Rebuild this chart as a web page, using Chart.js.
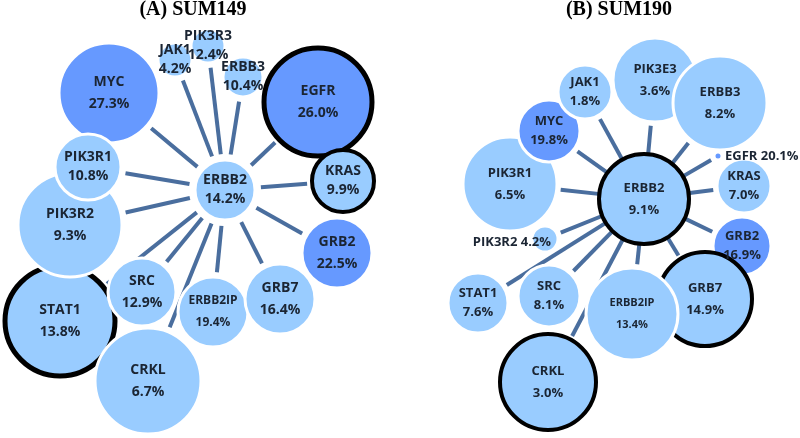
<!DOCTYPE html>
<html>
<head>
<meta charset="utf-8">
<script src="https://cdn.jsdelivr.net/npm/chart.js@4.4.0/dist/chart.umd.min.js"></script>
<style>
  html, body { margin: 0; padding: 0; background: #fff; }
  .panel { position: absolute; top: 0; width: 400px; height: 438px; }
</style>
</head>
<body>
<div class="panel" style="left:0"><canvas id="sum149" width="400" height="438"></canvas></div>
<div class="panel" style="left:400px"><canvas id="sum190" width="400" height="438"></canvas></div>
<script>
// (A) SUM149 - listed in drawing order, ERBB2 is the hub
const genesA = ['STAT1', 'PIK3R2', 'MYC', 'PIK3R1', 'SRC', 'CRKL', 'ERBB2IP', 'GRB7', 'EGFR', 'KRAS', 'GRB2', 'JAK1', 'PIK3R3', 'ERBB3', 'ERBB2'];
const pctA = [13.8, 9.3, 27.3, 10.8, 12.9, 6.7, 19.4, 16.4, 26.0, 9.9, 22.5, 4.2, 12.4, 10.4, 14.2];
const xA = [60, 70, 109, 88, 142, 148, 213, 280, 318, 343, 337, 175, 208, 243, 225];
const yA = [321, 225, 93, 167, 292, 381, 312, 299, 102, 181, 253, 60, 46, 77, 190];
const sizeA = [55, 52, 50, 33, 34, 53, 35, 35, 54, 31, 35, 17, 17, 20, 30];
const darkA = [0, 0, 1, 0, 0, 0, 0, 0, 1, 0, 1, 0, 0, 0, 0];
const ringA = [2, 0, 0, 0, 0, 0, 0, 0, 2, 1, 0, 0, 0, 0, 0];

// (B) SUM190
const genesB = ['PIK3R1', 'MYC', 'PIK3E3', 'JAK1', 'ERBB3', 'EGFR', 'KRAS', 'GRB2', 'GRB7', 'ERBB2IP', 'CRKL', 'SRC', 'STAT1', 'PIK3R2', 'ERBB2'];
const pctB = [6.5, 19.8, 3.6, 1.8, 8.2, 20.1, 7.0, 16.9, 14.9, 13.4, 3.0, 8.1, 7.6, 4.2, 9.1];
const xB = [510, 549, 655, 585, 720, 718, 744, 742, 705, 632, 548, 549, 478, 545, 644];
const yB = [184, 131, 80, 92, 103, 156, 186, 246, 299, 314, 382, 296, 303, 239, 199];
const sizeB = [47, 31, 42, 27, 47, 4, 27, 29, 47, 46, 48, 31, 30, 13, 45];
const darkB = [0, 1, 0, 0, 0, 1, 0, 1, 0, 0, 0, 0, 0, 0, 0];
const ringB = [0, 0, 0, 0, 0, 0, 0, 0, 1, 0, 1, 0, 0, 0, 1];

const HUB = 'ERBB2';

// spokes from the hub to every other node, drawn under the bubbles
const linkPlugin = {
  id: 'links',
  beforeDatasetsDraw(chart, args, opts) {
    const ctx = chart.ctx;
    const pts = chart.getDatasetMeta(0).data;
    const raw = chart.data.datasets[0].data;
    const h = chart.data.labels.indexOf(HUB);
    const hub = pts[h];
    ctx.save();
    ctx.strokeStyle = '#4a6e9e';
    ctx.lineWidth = 4;
    pts.forEach((p, i) => {
      if (i === h) return;
      const dx = p.x - hub.x, dy = p.y - hub.y;
      const d = Math.hypot(dx, dy);
      const ux = dx / d, uy = dy / d;
      const a = raw[h].r + opts.hubGap;
      const b = d - raw[i].r - opts.gap;
      if (b <= a) return;
      ctx.beginPath();
      ctx.moveTo(hub.x + ux * a, hub.y + uy * a);
      ctx.lineTo(hub.x + ux * b, hub.y + uy * b);
      ctx.stroke();
    });
    ctx.restore();
  }
};

// gene name + percentage on each node
const labelPlugin = {
  id: 'nodeLabels',
  afterDatasetsDraw(chart, args, opts) {
    const ctx = chart.ctx;
    const pts = chart.getDatasetMeta(0).data;
    const raw = chart.data.datasets[0].data;
    const pct = chart.data.datasets[0].pct;
    ctx.save();
    ctx.fillStyle = '#1b2533';
    ctx.textBaseline = 'middle';
    pts.forEach((p, i) => {
      const name = chart.data.labels[i];
      const txt = pct[i].toFixed(1) + '%';
      const r = raw[i].r;
      let size = opts.size;
      if (name.length > 6) size -= 2;
      ctx.font = 'bold ' + size + 'px "Open Sans", "DejaVu Sans", sans-serif';
      const side = (opts.inline || {})[name];
      if (side === 'right') {
        ctx.textAlign = 'left';
        ctx.fillText(name + ' ' + txt, p.x + r + 3, p.y);
      } else if (side === 'left') {
        ctx.textAlign = 'right';
        ctx.fillText(name + ' ' + txt, p.x + 6, p.y + 3);
      } else {
        const g = r >= 34 ? 11 : 9.5;
        ctx.textAlign = 'center';
        ctx.fillText(name, p.x, p.y - g);
        ctx.fillText(txt, p.x, p.y + g);
      }
    });
    ctx.restore();
  }
};

function makeChart(id, title, genes, pct, xs, ys, sizes, dark, ring, xmin, xmax, pad, opts) {
  return new Chart(document.getElementById(id), {
    type: 'bubble',
    data: {
      labels: genes,
      datasets: [{
        data: xs.map((x, i) => ({ x: x, y: ys[i], r: sizes[i] })),
        pct: pct,
        backgroundColor: dark.map(d => d ? '#6699ff' : '#99ccff'),
        borderColor: ring.map(k => k ? '#000000' : '#ffffff'),
        borderWidth: ring.map(k => k === 2 ? 5 : k ? 4 : 3),
        clip: false
      }]
    },
    options: {
      responsive: false,
      animation: false,
      events: [],
      layout: { padding: pad, autoPadding: false },
      scales: {
        x: { type: 'linear', min: xmin, max: xmax, display: false },
        y: { type: 'linear', min: 25, max: 438, reverse: true, display: false }
      },
      plugins: {
        legend: { display: false },
        tooltip: { enabled: false },
        title: {
          display: true,
          text: title,
          color: '#000',
          font: { family: '"Liberation Serif", "Times New Roman", serif', size: 20, weight: 'bold', lineHeight: 1 },
          padding: { top: 0, bottom: 5 }
        },
        links: opts.links,
        nodeLabels: opts.labels
      }
    },
    plugins: [linkPlugin, labelPlugin]
  });
}

makeChart('sum149', '(A) SUM149', genesA, pctA, xA, yA, sizeA, darkA, ringA,
  0, 386, { left: 0, right: 14, top: 0, bottom: 0 },
  { links: { hubGap: 6, gap: 5 }, labels: { size: 14 } });

makeChart('sum190', '(B) SUM190', genesB, pctB, xB, yB, sizeB, darkB, ringB,
  438, 800, { left: 38, right: 0, top: 0, bottom: 0 },
  { links: { hubGap: 1, gap: 4 }, labels: { size: 13, inline: { EGFR: 'right', PIK3R2: 'left' } } });
</script>
</body>
</html>
